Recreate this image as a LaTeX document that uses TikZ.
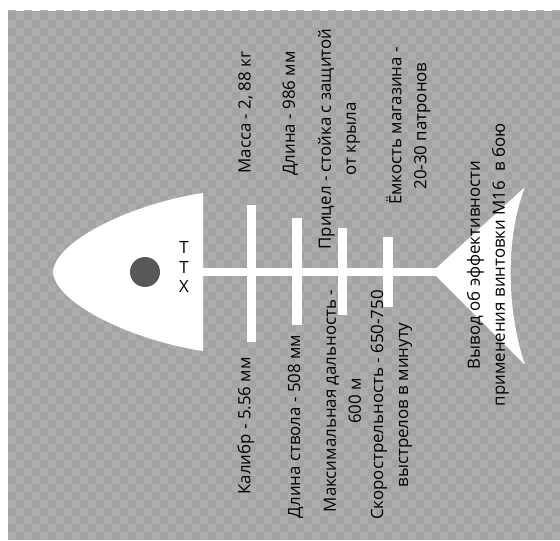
\documentclass[tikz,border=0pt]{standalone}
\usepackage{fontspec}
\setmainfont{Open Sans}

\tikzset{
    bone/.style={line width=0.24cm, white},
    rotlabel/.style={rotate=90, align=center, font=\fontsize{12}{17.8}\selectfont, inner sep=0pt}
}

\begin{document}
\begin{tikzpicture}
    \definecolor{mybg}{RGB}{163,163,163}
    \definecolor{mybgdark}{RGB}{172,172,172}
    \definecolor{myeye}{RGB}{88,88,88}

    \useasboundingbox (0,0) rectangle (14,13.5);
    \fill[white] (0,0) rectangle (14,13.5);

    % background with faint checker
    \begin{scope}
        \clip (0.2,0) rectangle (14,13.225);
        \fill[mybg] (0.2,0) rectangle (14,13.225);
        \foreach \i in {0,...,34} {
            \foreach \j in {0,...,33} {
                \fill[mybgdark] (0.2+0.4*\i,0.4*\j) rectangle +(0.2,0.2);
                \fill[mybgdark] (0.4+0.4*\i,0.2+0.4*\j) rectangle +(0.2,0.2);
            }
        }
    \end{scope}

    % head
    \fill[white] (5.075,8.675) .. controls (3.375,8.425) and (1.375,7.5) .. (1.325,6.7)
        .. controls (1.375,5.9) and (3.375,4.975) .. (5.075,4.725) -- cycle;
    \fill[myeye] (3.625,6.7) circle (0.375);

    % spine and bones
    \draw[white, line width=0.2cm] (5.0,6.7) -- (11.0,6.7);
    \draw[bone] (6.29,8.375) -- (6.29,4.95);
    \draw[bone] (7.425,8.05) -- (7.425,5.375);
    \draw[bone] (8.5625,7.8) -- (8.5625,5.625);
    \draw[bone] (9.7,7.575) -- (9.7,5.825);

    % tail
    \fill[white, rounded corners=1pt] (10.8,6.7) -- (13.125,8.825)
        .. controls (12.65,7.6) and (12.65,5.8) .. (13.125,4.375) -- cycle;

    \node[align=center, font=\fontsize{12}{14}\selectfont, inner sep=0pt] (ttx) at (4.6,6.825) {Т\\Т\\Х};

    % upper labels
    \node[rotlabel] (massa) at (6.14,10.69) {Масса - 2, 88 кг};
    \node[rotlabel] (dlina) at (7.26,10.66) {Длина - 986 мм};
    \node[rotlabel] (pricel) at (8.475,10.025) {Прицел - стойка с защитой\\от крыла};
    \node[rotlabel] (emkost) at (10.21,10.35) {Ёмкость магазина -\\20-30 патронов};
    \node[rotlabel] (vyvod) at (12.2,6.875) {Вывод об эффективности\\применения винтовки М16~ в бою};

    % lower labels
    \node[rotlabel] (kalibr) at (6.15,2.85) {Калибр - 5.56 мм};
    \node[rotlabel] (stvol) at (7.39,2.84) {Длина ствола - 508 мм};
    \node[rotlabel] (dalnost) at (8.5625,3.475) {Максимальная дальность -\\600 м};
    \node[rotlabel] (skoro) at (9.79,3.375) {Скорострельность - 650-750\\выстрелов в минуту};
\end{tikzpicture}
\end{document}
